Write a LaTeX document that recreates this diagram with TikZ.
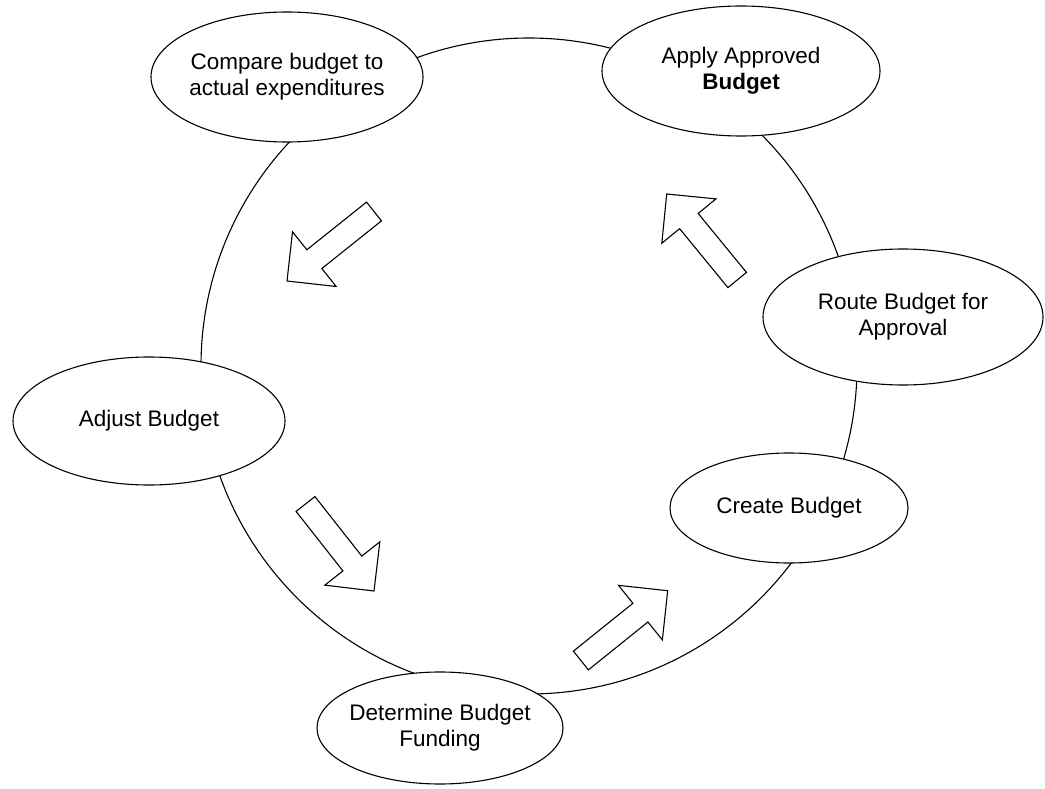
\documentclass[tikz,border=0pt]{standalone}
\usepackage{fontspec}
\setmainfont{Liberation Sans}
\usetikzlibrary{shapes.geometric,calc}
\tikzset{
  stage/.style={draw=black, line width=1.1pt, fill=white, ellipse, inner ysep=0pt, inner xsep=-25pt, align=center, font=\fontsize{22.5}{26}\selectfont},
  ring/.style={draw=black, line width=1.1pt, circle, inner sep=0pt},
  blk/.style={draw=black, line width=1.1pt, fill=white, line join=miter}
}
\newcommand{\blkarrow}[2]{%
  \coordinate (#1b) at ($(#2)!35pt!(#1)$);
  \draw[blk] ($(#1)!12pt!90:(#2)$) -- ($(#1b)!12pt!90:(#2)$) -- ($(#1b)!35pt!90:(#2)$) -- (#2)
     -- ($(#1b)!35pt!-90:(#2)$) -- ($(#1b)!12pt!-90:(#2)$) -- ($(#1)!12pt!-90:(#2)$) -- cycle;
}
\begin{document}
\begin{tikzpicture}[x=1pt,y=-1pt]
\useasboundingbox[fill=white] (0,0) rectangle (1045,789);
\node[ring, minimum size=656pt] (ring) at (529,366) {};
\node[stage, minimum width=272pt, minimum height=130pt] (cmp) at (287,77) {Compare budget to\\actual expenditures};
\node[stage, minimum width=278pt, minimum height=130pt] (app) at (741,71) {Apply Approved\\\textbf{Budget}};
\node[stage, minimum width=280pt, minimum height=136pt] (rte) at (903,317) {Route Budget for\\Approval};
\node[stage, minimum width=238pt, minimum height=110pt] (crt) at (789,508) {Create Budget};
\node[stage, minimum width=246pt, minimum height=112pt] (det) at (440,728) {Determine Budget\\Funding};
\node[stage, minimum width=272pt, minimum height=128pt] (adj) at (149,421) {Adjust Budget};
\coordinate (a1t) at (374,211.5); \coordinate (a1p) at (287,281);
\coordinate (a2t) at (737.2,280); \coordinate (a2p) at (666.7,194);
\coordinate (a3t) at (305.5,504); \coordinate (a3p) at (374,591);
\coordinate (a4t) at (580.9,660.5); \coordinate (a4p) at (667.7,590.7);
\blkarrow{a1t}{a1p}
\blkarrow{a2t}{a2p}
\blkarrow{a3t}{a3p}
\blkarrow{a4t}{a4p}
\end{tikzpicture}
\end{document}
